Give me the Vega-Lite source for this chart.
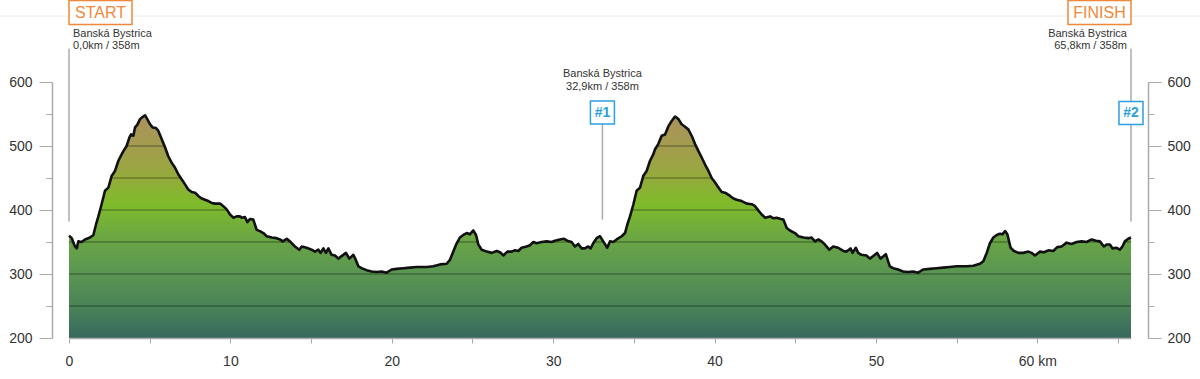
{
  "$schema": "https://vega.github.io/schema/vega-lite/v6.json",
  "width": 1062,
  "height": 256,
  "autosize": {"type": "none"},
  "padding": {"left": 69, "top": 82, "right": 69, "bottom": 41},
  "background": "white",
  "config": {"view": {"stroke": null}, "font": "Liberation Sans"},
  "datasets": {
    "profile": [
      {"km":0,"m":360},{"km":0.17,"m":356},{"km":0.37,"m":343},{"km":0.48,"m":340},{"km":0.58,"m":351},{"km":0.78,"m":350},{"km":0.99,"m":354},{"km":1.3,"m":357},{"km":1.51,"m":361},{"km":1.67,"m":377},{"km":1.82,"m":390},{"km":2.02,"m":409},{"km":2.23,"m":430},{"km":2.44,"m":435},{"km":2.64,"m":453},{"km":2.85,"m":461},{"km":3.06,"m":477},{"km":3.26,"m":487},{"km":3.37,"m":492},{"km":3.57,"m":500},{"km":3.74,"m":513},{"km":3.84,"m":518},{"km":3.99,"m":516},{"km":4.09,"m":529},{"km":4.23,"m":533},{"km":4.4,"m":542},{"km":4.54,"m":545},{"km":4.71,"m":548},{"km":4.85,"m":542},{"km":5.02,"m":534},{"km":5.18,"m":529},{"km":5.39,"m":528},{"km":5.53,"m":524},{"km":5.74,"m":511},{"km":5.95,"m":498},{"km":6.15,"m":484},{"km":6.36,"m":474},{"km":6.57,"m":466},{"km":6.77,"m":456},{"km":6.98,"m":448},{"km":7.19,"m":440},{"km":7.39,"m":432},{"km":7.6,"m":428},{"km":7.81,"m":427},{"km":8.01,"m":422},{"km":8.22,"m":418},{"km":8.43,"m":416},{"km":8.63,"m":414},{"km":8.84,"m":411},{"km":9.05,"m":410},{"km":9.36,"m":410},{"km":9.56,"m":406},{"km":9.77,"m":401},{"km":9.98,"m":393},{"km":10.18,"m":388},{"km":10.39,"m":390},{"km":10.59,"m":390},{"km":10.7,"m":388},{"km":10.9,"m":389},{"km":11.05,"m":381},{"km":11.21,"m":386},{"km":11.42,"m":385},{"km":11.63,"m":369},{"km":11.83,"m":367},{"km":12.04,"m":364},{"km":12.25,"m":359},{"km":12.56,"m":357},{"km":12.86,"m":356},{"km":13.07,"m":354},{"km":13.24,"m":351},{"km":13.49,"m":355},{"km":13.69,"m":351},{"km":14.0,"m":343},{"km":14.27,"m":338},{"km":14.42,"m":343},{"km":14.72,"m":341},{"km":15.03,"m":338},{"km":15.24,"m":335},{"km":15.45,"m":338},{"km":15.59,"m":333},{"km":15.76,"m":340},{"km":15.92,"m":333},{"km":16.07,"m":340},{"km":16.27,"m":330},{"km":16.48,"m":329},{"km":16.69,"m":324},{"km":16.89,"m":328},{"km":17.16,"m":333},{"km":17.37,"m":324},{"km":17.62,"m":330},{"km":17.72,"m":325},{"km":17.93,"m":312},{"km":18.13,"m":309},{"km":18.44,"m":306},{"km":18.75,"m":304},{"km":19.06,"m":303},{"km":19.37,"m":304},{"km":19.68,"m":302},{"km":19.99,"m":307},{"km":20.3,"m":308},{"km":20.71,"m":309},{"km":21.13,"m":310},{"km":21.54,"m":311},{"km":21.95,"m":311},{"km":22.16,"m":311},{"km":22.57,"m":312},{"km":22.99,"m":315},{"km":23.4,"m":316},{"km":23.6,"m":322},{"km":23.81,"m":335},{"km":24.02,"m":348},{"km":24.22,"m":357},{"km":24.43,"m":361},{"km":24.64,"m":364},{"km":24.84,"m":362},{"km":25.05,"m":368},{"km":25.22,"m":361},{"km":25.36,"m":346},{"km":25.57,"m":338},{"km":25.88,"m":335},{"km":26.19,"m":333},{"km":26.5,"m":336},{"km":26.71,"m":334},{"km":26.91,"m":329},{"km":27.16,"m":335},{"km":27.43,"m":335},{"km":27.63,"m":337},{"km":27.84,"m":336},{"km":28.04,"m":341},{"km":28.35,"m":343},{"km":28.56,"m":345},{"km":28.77,"m":350},{"km":28.97,"m":348},{"km":29.28,"m":350},{"km":29.59,"m":351},{"km":29.9,"m":350},{"km":30.11,"m":352},{"km":30.42,"m":354},{"km":30.67,"m":355},{"km":30.87,"m":352},{"km":31.14,"m":350},{"km":31.35,"m":343},{"km":31.55,"m":347},{"km":31.76,"m":340},{"km":31.97,"m":340},{"km":32.17,"m":343},{"km":32.32,"m":340},{"km":32.48,"m":348},{"km":32.69,"m":356},{"km":32.9,"m":359},{"km":33.1,"m":351},{"km":33.35,"m":341},{"km":33.52,"m":351},{"km":33.72,"m":350},{"km":33.93,"m":354},{"km":34.24,"m":359},{"km":34.45,"m":364},{"km":34.59,"m":377},{"km":34.76,"m":390},{"km":34.97,"m":409},{"km":35.17,"m":430},{"km":35.38,"m":435},{"km":35.58,"m":453},{"km":35.79,"m":461},{"km":36.0,"m":477},{"km":36.2,"m":487},{"km":36.31,"m":495},{"km":36.51,"m":503},{"km":36.72,"m":516},{"km":36.93,"m":518},{"km":37.14,"m":531},{"km":37.34,"m":539},{"km":37.55,"m":546},{"km":37.76,"m":542},{"km":37.96,"m":534},{"km":38.17,"m":530},{"km":38.37,"m":526},{"km":38.58,"m":516},{"km":38.79,"m":503},{"km":39.0,"m":492},{"km":39.2,"m":482},{"km":39.41,"m":471},{"km":39.62,"m":461},{"km":39.82,"m":450},{"km":40.03,"m":443},{"km":40.24,"m":435},{"km":40.44,"m":428},{"km":40.65,"m":427},{"km":40.96,"m":422},{"km":41.17,"m":418},{"km":41.37,"m":416},{"km":41.68,"m":414},{"km":41.99,"m":410},{"km":42.3,"m":409},{"km":42.51,"m":406},{"km":42.72,"m":399},{"km":42.92,"m":393},{"km":43.13,"m":388},{"km":43.44,"m":390},{"km":43.65,"m":387},{"km":43.85,"m":388},{"km":44.1,"m":386},{"km":44.26,"m":385},{"km":44.47,"m":372},{"km":44.67,"m":368},{"km":44.98,"m":364},{"km":45.19,"m":359},{"km":45.5,"m":357},{"km":45.81,"m":356},{"km":46.01,"m":357},{"km":46.22,"m":351},{"km":46.43,"m":354},{"km":46.63,"m":351},{"km":46.84,"m":346},{"km":47.1,"m":338},{"km":47.35,"m":343},{"km":47.66,"m":341},{"km":47.97,"m":336},{"km":48.18,"m":335},{"km":48.42,"m":340},{"km":48.55,"m":333},{"km":48.75,"m":341},{"km":48.9,"m":333},{"km":49.1,"m":330},{"km":49.41,"m":329},{"km":49.62,"m":324},{"km":49.83,"m":328},{"km":50.07,"m":333},{"km":50.28,"m":324},{"km":50.48,"m":328},{"km":50.61,"m":331},{"km":50.75,"m":320},{"km":50.86,"m":312},{"km":51.06,"m":309},{"km":51.37,"m":307},{"km":51.68,"m":304},{"km":51.99,"m":303},{"km":52.3,"m":304},{"km":52.61,"m":302},{"km":52.92,"m":307},{"km":53.33,"m":308},{"km":53.75,"m":309},{"km":54.16,"m":310},{"km":54.57,"m":311},{"km":54.99,"m":312},{"km":55.4,"m":312},{"km":55.62,"m":312},{"km":56.03,"m":313},{"km":56.44,"m":316},{"km":56.65,"m":320},{"km":56.86,"m":333},{"km":57.06,"m":348},{"km":57.27,"m":357},{"km":57.48,"m":361},{"km":57.68,"m":363},{"km":57.83,"m":362},{"km":58.0,"m":367},{"km":58.14,"m":362},{"km":58.34,"m":341},{"km":58.55,"m":336},{"km":58.82,"m":333},{"km":59.13,"m":333},{"km":59.44,"m":335},{"km":59.64,"m":333},{"km":59.85,"m":329},{"km":60.16,"m":335},{"km":60.41,"m":334},{"km":60.68,"m":337},{"km":60.99,"m":336},{"km":61.23,"m":342},{"km":61.5,"m":343},{"km":61.81,"m":349},{"km":62.12,"m":347},{"km":62.43,"m":350},{"km":62.74,"m":351},{"km":63.05,"m":350},{"km":63.36,"m":354},{"km":63.63,"m":352},{"km":63.87,"m":351},{"km":64.12,"m":343},{"km":64.29,"m":346},{"km":64.49,"m":346},{"km":64.66,"m":340},{"km":64.91,"m":341},{"km":65.11,"m":338},{"km":65.27,"m":343},{"km":65.42,"m":351},{"km":65.63,"m":355},{"km":65.8,"m":357}
    ],
    "grid": [{"g":250},{"g":300},{"g":350},{"g":400},{"g":450},{"g":500}],
    "markers": [
      {"km":0,"top":652,"bot":382},
      {"km":33.05,"top":537,"bot":385},
      {"km":65.8,"top":652,"bot":382}
    ]
  },
  "resolve": {"axis": {"x": "independent", "y": "independent"}},
  "layer": [
    {
      "data": {"name": "profile"},
      "mark": {
        "type": "area",
        "color": {
          "gradient": "linear", "x1": 0, "y1": 0, "x2": 0, "y2": 1,
          "stops": [
            {"offset": 0, "color": "#aa925e"},
            {"offset": 0.14, "color": "#a39c4e"},
            {"offset": 0.28, "color": "#94ab3c"},
            {"offset": 0.4, "color": "#7fbb2a"},
            {"offset": 0.57, "color": "#68a446"},
            {"offset": 0.71, "color": "#5a9552"},
            {"offset": 0.86, "color": "#4b8358"},
            {"offset": 1, "color": "#36685e"}
          ]
        }
      },
      "encoding": {
        "x": {
          "field": "km", "type": "quantitative",
          "scale": {"domain": [0, 65.8], "nice": false, "zero": false},
          "axis": {
            "orient": "bottom", "zindex": 1, "title": null, "grid": false,
            "ticks": true, "domain": true, "labels": true,
            "values": [0,5,10,15,20,25,30,35,40,45,50,55,60,65],
            "labelExpr": "datum.value % 10 === 0 ? (datum.value === 60 ? '60 km' : datum.label) : ''",
            "tickSize": 5, "labelPadding": 11,
            "domainColor": "#aaaaaa", "domainWidth": 1.5, "tickColor": "#aaaaaa",
            "labelColor": "#333333", "labelFontSize": 14, "labelFont": "Liberation Sans",
            "labelFlush": false, "labelOverlap": false
          }
        },
        "y": {
          "field": "m", "type": "quantitative",
          "scale": {"domain": [200, 600], "nice": false, "zero": false},
          "axis": {
            "orient": "left", "offset": 17, "title": null, "grid": false,
            "values": [200,250,300,350,400,450,500,550,600],
            "labelExpr": "datum.value % 100 === 0 ? datum.label : ''",
            "tickSize": {"condition": {"test": "datum.value % 100 === 0", "value": 13}, "value": 6},
            "labelPadding": 7,
            "domainColor": "#aaaaaa", "domainWidth": 1.5, "tickColor": "#aaaaaa",
            "labelColor": "#333333", "labelFontSize": 14, "labelFont": "Liberation Sans"
          }
        },
        "y2": {"datum": 200}
      }
    },
    {
      "data": {"name": "grid"},
      "mark": {"type": "rule", "color": "#000000", "opacity": 0.45, "strokeWidth": 1},
      "encoding": {
        "y": {"field": "g", "type": "quantitative", "axis": null, "scale": {"domain": [200, 600], "nice": false, "zero": false}}
      }
    },
    {
      "data": {"name": "profile"},
      "mark": {"type": "area", "color": "white"},
      "encoding": {
        "x": {"field": "km", "type": "quantitative", "axis": null, "scale": {"domain": [0, 65.8], "nice": false, "zero": false}},
        "y": {
          "field": "m", "type": "quantitative",
          "scale": {"domain": [200, 600], "nice": false, "zero": false},
          "axis": {
            "orient": "right", "offset": 17, "title": null, "grid": false,
            "values": [200,250,300,350,400,450,500,550,600],
            "labelExpr": "datum.value % 100 === 0 ? datum.label : ''",
            "tickSize": {"condition": {"test": "datum.value % 100 === 0", "value": 13}, "value": 6},
            "labelPadding": 6,
            "domainColor": "#aaaaaa", "domainWidth": 1.5, "tickColor": "#aaaaaa",
            "labelColor": "#333333", "labelFontSize": 14, "labelFont": "Liberation Sans"
          }
        },
        "y2": {"datum": 600}
      }
    },
    {
      "data": {"name": "markers"},
      "mark": {"type": "rule", "color": "#aaaaaa", "strokeWidth": 1.5},
      "encoding": {
        "x": {"field": "km", "type": "quantitative", "axis": null},
        "y": {"field": "top", "type": "quantitative", "axis": null},
        "y2": {"field": "bot"}
      }
    },
    {
      "data": {"name": "profile"},
      "mark": {"type": "line", "color": "#111111", "strokeWidth": 2.6, "strokeJoin": "round"},
      "encoding": {
        "x": {"field": "km", "type": "quantitative", "axis": null},
        "y": {"field": "m", "type": "quantitative", "axis": null}
      }
    },
    {
      "data": {"values": [{"a":-4.3,"b":70.1,"m":703}]},
      "mark": {"type": "rule", "color": "#ebebeb", "strokeWidth": 1},
      "encoding": {
        "x": {"field": "a", "type": "quantitative", "axis": null},
        "x2": {"field": "b"},
        "y": {"field": "m", "type": "quantitative", "axis": null}
      }
    },
    {
      "data": {"values": [{"km": 0, "m": 670.6, "t": "Banská Bystrica\n0,0km / 358m"}]},
      "mark": {"type": "text", "align": "left", "baseline": "alphabetic", "dx": 4, "fontSize": 11, "color": "#333333", "lineBreak": "\n", "lineHeight": 12.5},
      "encoding": {
        "x": {"field": "km", "type": "quantitative", "axis": null},
        "y": {"field": "m", "type": "quantitative", "axis": null},
        "text": {"field": "t"}
      }
    },
    {
      "data": {"values": [{"km": 65.8, "m": 670.6, "t": "Banská Bystrica\n65,8km / 358m"}]},
      "mark": {"type": "text", "align": "right", "baseline": "alphabetic", "dx": -4, "fontSize": 11, "color": "#333333", "lineBreak": "\n", "lineHeight": 12.5},
      "encoding": {
        "x": {"field": "km", "type": "quantitative", "axis": null},
        "y": {"field": "m", "type": "quantitative", "axis": null},
        "text": {"field": "t"}
      }
    },
    {
      "data": {"values": [{"km": 33.05, "m": 607.8, "t": "Banská Bystrica\n32,9km / 358m"}]},
      "mark": {"type": "text", "align": "center", "baseline": "alphabetic", "fontSize": 11, "color": "#333333", "lineBreak": "\n", "lineHeight": 12.5},
      "encoding": {
        "x": {"field": "km", "type": "quantitative", "axis": null},
        "y": {"field": "m", "type": "quantitative", "axis": null},
        "text": {"field": "t"}
      }
    },
    {
      "data": {"values": [{"km": 0, "m": 708.5, "t": "START"}]},
      "mark": {"type": "point", "shape": "M-1,-0.381L1,-0.381L1,0.381L-1,0.381Z", "size": 3969, "filled": false, "fill": "white", "fillOpacity": 1, "stroke": "#f0883a", "strokeWidth": 1.5, "opacity": 1, "xOffset": 31.5},
      "encoding": {
        "x": {"field": "km", "type": "quantitative", "axis": null},
        "y": {"field": "m", "type": "quantitative", "axis": null}
      }
    },
    {
      "data": {"values": [{"km": 0, "m": 708.5, "t": "START"}]},
      "mark": {"type": "text", "align": "center", "baseline": "middle", "dx": 31.5, "dy": 0, "fontSize": 16, "color": "#f0883a"},
      "encoding": {
        "x": {"field": "km", "type": "quantitative", "axis": null},
        "y": {"field": "m", "type": "quantitative", "axis": null},
        "text": {"field": "t"}
      }
    },
    {
      "data": {"values": [{"km": 65.8, "m": 708.5, "t": "FINISH"}]},
      "mark": {"type": "point", "shape": "M-1,-0.381L1,-0.381L1,0.381L-1,0.381Z", "size": 3969, "filled": false, "fill": "white", "fillOpacity": 1, "stroke": "#f0883a", "strokeWidth": 1.5, "opacity": 1, "xOffset": -31.5},
      "encoding": {
        "x": {"field": "km", "type": "quantitative", "axis": null},
        "y": {"field": "m", "type": "quantitative", "axis": null}
      }
    },
    {
      "data": {"values": [{"km": 65.8, "m": 708.5, "t": "FINISH"}]},
      "mark": {"type": "text", "align": "center", "baseline": "middle", "dx": -31.5, "dy": 0, "fontSize": 16, "color": "#f0883a"},
      "encoding": {
        "x": {"field": "km", "type": "quantitative", "axis": null},
        "y": {"field": "m", "type": "quantitative", "axis": null},
        "text": {"field": "t"}
      }
    },
    {
      "data": {"values": [{"km": 33.05, "m": 552.2, "t": "#1"}, {"km": 65.8, "m": 551.5, "t": "#2"}]},
      "mark": {"type": "point", "shape": "M-1,-0.96L1,-0.96L1,0.96L-1,0.96Z", "size": 576, "filled": false, "fill": "white", "fillOpacity": 1, "stroke": "#2b9fe0", "strokeWidth": 1.5, "opacity": 1},
      "encoding": {
        "x": {"field": "km", "type": "quantitative", "axis": null},
        "y": {"field": "m", "type": "quantitative", "axis": null}
      }
    },
    {
      "data": {"values": [{"km": 33.05, "m": 552.2, "t": "#1"}, {"km": 65.8, "m": 551.5, "t": "#2"}]},
      "mark": {"type": "text", "align": "center", "baseline": "middle", "fontSize": 14, "fontWeight": "bold", "color": "#2b9fe0"},
      "encoding": {
        "x": {"field": "km", "type": "quantitative", "axis": null},
        "y": {"field": "m", "type": "quantitative", "axis": null},
        "text": {"field": "t"}
      }
    }
  ]
}
